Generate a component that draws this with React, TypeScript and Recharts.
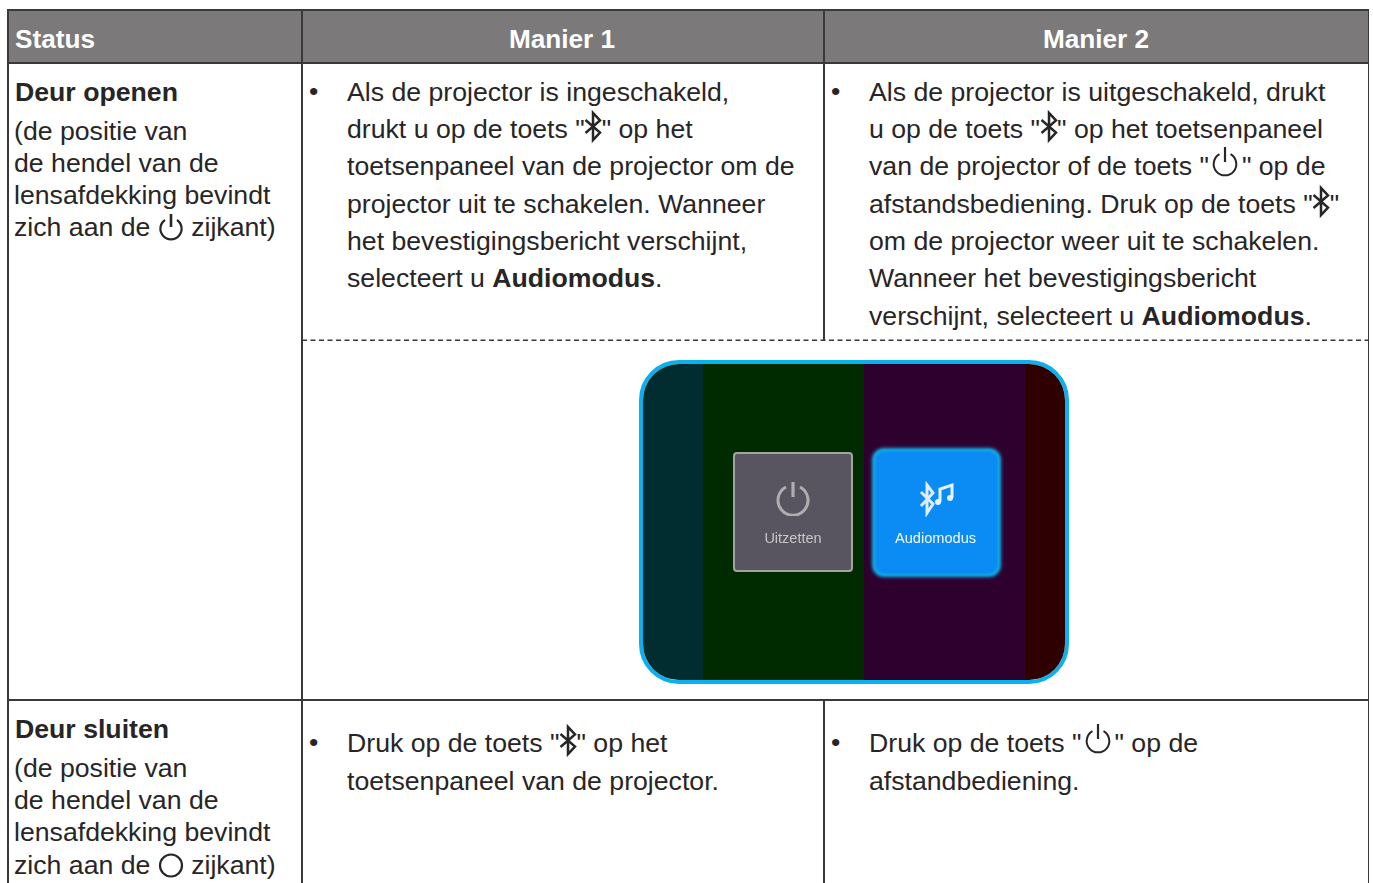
import { Bar, BarChart, XAxis, YAxis } from "recharts";

const FONT = '"Liberation Sans", Arial, sans-serif';
const INK = "#282526";

// colour bands behind the two tiles (width of each band)
const bandNames = ["teal", "green", "purple", "red"];
const bandWidths = [60, 161, 161, 40];
const bandColors = ["#012c30", "#002b00", "#2e002e", "#2e0000"];
const bandRow = [{ row: "paneel", teal: 60, green: 161, purple: 161, red: 40 }];

const headers = ["Status", "Manier 1", "Manier 2"];

// B = bluetooth icon, P = power icon, O = circle icon, **bold**
const way1Open = [
  "Als de projector is ingeschakeld,",
  'drukt u op de toets "{B}" op het',
  "toetsenpaneel van de projector om de",
  "projector uit te schakelen. Wanneer",
  "het bevestigingsbericht verschijnt,",
  "selecteert u **Audiomodus**.",
];
const way2Open = [
  "Als de projector is uitgeschakeld, drukt",
  'u op de toets "{B}" op het toetsenpaneel',
  'van de projector of de toets "{P}" op de',
  'afstandsbediening. Druk op de toets "{B}"',
  "om de projector weer uit te schakelen.",
  "Wanneer het bevestigingsbericht",
  "verschijnt, selecteert u **Audiomodus**.",
];
const openBaselines = [101, 138, 175, 213, 250, 287, 325];
const way1Close = ['Druk op de toets "{B}" op het', "toetsenpaneel van de projector."];
const way2Close = ['Druk op de toets "{P}" op de', "afstandbediening."];
const closeBaselines = [752, 790];
const statusOpen = ["(de positie van", "de hendel van de", "lensafdekking bevindt", "zich aan de {Q} zijkant)"];
const statusClose = ["(de positie van", "de hendel van de", "lensafdekking bevindt", "zich aan de {O} zijkant)"];
const statusOpenBaselines = [140, 172, 204, 236];
const statusCloseBaselines = [777, 809, 841, 874];

const FS = 26.67;
const HEADER_FS = 26.2;

function Icon({ kind }: { kind: string }) {
  const base = { position: "absolute", overflow: "visible" } as const;
  if (kind === "B") {
    return (
      <span style={{ display: "inline-block", position: "relative", width: 17, height: 0 }}>
        <svg width={18} height={31} viewBox="0 0 18 31" style={{ ...base, left: -0.5, top: -27 }}>
          <path d="M1.5 9 L16 21.5 L9 29 L9 2 L16 9.5 L1.5 22" fill="none" stroke={INK} strokeWidth={2.5} />
        </svg>
      </span>
    );
  }
  if (kind === "P") {
    return (
      <span style={{ display: "inline-block", position: "relative", width: 33, height: 0 }}>
        <svg width={26} height={28} viewBox="0 0 26 28" style={{ ...base, left: 3.5, top: -28 }}>
          <path d="M7.5 7.2 A11.3 11.3 0 1 0 18.5 7.2" fill="none" stroke={INK} strokeWidth={2} />
          <line x1={13} y1={0} x2={13} y2={15} stroke={INK} strokeWidth={2.2} />
        </svg>
      </span>
    );
  }
  if (kind === "Q") {
    return (
      <span style={{ display: "inline-block", position: "relative", width: 26, height: 0 }}>
        <svg width={26} height={25} viewBox="0 0 26 25" style={{ ...base, left: 0, top: -22 }}>
          <path d="M7 6 A10.6 10.6 0 1 0 19 6" fill="none" stroke={INK} strokeWidth={2.2} />
          <line x1={13} y1={0} x2={13} y2={13} stroke={INK} strokeWidth={2.6} />
        </svg>
      </span>
    );
  }
  return (
    <span style={{ display: "inline-block", position: "relative", width: 26, height: 0 }}>
      <svg width={26} height={25} viewBox="0 0 26 25" style={{ ...base, left: 0, top: -21 }}>
        <circle cx={13} cy={12.5} r={11} fill="none" stroke={INK} strokeWidth={2.2} />
      </svg>
    </span>
  );
}

function TextLine({ x, baseline, text, size = FS, weight = 400, color = INK }: any) {
  const parts = text.split(/(\{[BPQO]\}|\*\*[^*]+\*\*)/).filter(Boolean);
  const lh = 40;
  const top = baseline - 0.905 * size - (lh - 1.117 * size) / 2;
  return (
    <div
      style={{
        position: "absolute",
        left: x,
        top,
        lineHeight: `${lh}px`,
        fontSize: size,
        fontWeight: weight,
        color,
        whiteSpace: "pre",
      }}
    >
      {parts.map((p: string, i: number) => {
        if (p.startsWith("{")) return <Icon key={i} kind={p[1]} />;
        if (p.startsWith("**")) return <b key={i}>{p.slice(2, -2)}</b>;
        return <span key={i}>{p}</span>;
      })}
    </div>
  );
}

function Column({ x, lines, baselines }: { x: number; lines: string[]; baselines: number[] }) {
  return (
    <>
      {lines.map((t, i) => (
        <TextLine key={i} x={x} baseline={baselines[i]} text={t} />
      ))}
    </>
  );
}

function Rule({ x, y, w, h }: { x: number; y: number; w: number; h: number }) {
  return <div style={{ position: "absolute", left: x, top: y, width: w, height: h, background: "#3a3838" }} />;
}

function Panel() {
  return (
    <div
      style={{
        position: "absolute",
        left: 639,
        top: 360,
        width: 422,
        height: 316,
        border: "4px solid #0bb0ee",
        borderRadius: 40,
        overflow: "hidden",
      }}
    >
      <BarChart
        width={422}
        height={316}
        data={bandRow}
        layout="vertical"
        margin={{ top: 0, right: 0, bottom: 0, left: 0 }}
        barCategoryGap={0}
      >
        <XAxis type="number" hide domain={[0, bandWidths.reduce((a, b) => a + b, 0)]} />
        <YAxis type="category" dataKey="row" hide />
        {bandNames.map((n, i) => (
          <Bar key={n} dataKey={n} stackId="a" fill={bandColors[i]} isAnimationActive={false} />
        ))}
      </BarChart>
    </div>
  );
}

function Tiles() {
  return (
    <>
      <div
        style={{
          position: "absolute",
          left: 733,
          top: 452,
          width: 116,
          height: 116,
          background: "#585560",
          border: "2px solid #a3a3a3",
          borderRadius: 4,
          filter: "blur(0.4px)",
        }}
      />
      <svg
        width={36}
        height={36}
        viewBox="0 0 36 36"
        style={{ position: "absolute", left: 775, top: 480, filter: "blur(0.5px)" }}
      >
        <path d="M11 7 A15 15 0 1 0 25 7" fill="none" stroke="#aeaeb0" strokeWidth={3} />
        <line x1={18} y1={2} x2={18} y2={17} stroke="#aeaeb0" strokeWidth={3.2} />
      </svg>
      <div style={{ position: "absolute", left: 733, width: 120, top: 530, textAlign: "center", fontSize: 14.5, color: "#c6c6c8", filter: "blur(0.3px)" }}>
        Uitzetten
      </div>
      <div
        style={{
          position: "absolute",
          left: 873,
          top: 449,
          width: 123,
          height: 123,
          background: "#0b8cf5",
          border: "2px solid #12b4e4",
          borderRadius: 11,
          boxShadow: "0 0 3px 1px #10a5e0",
          filter: "blur(0.8px)",
        }}
      />
      <svg
        width={40}
        height={36}
        viewBox="0 0 40 36"
        style={{ position: "absolute", left: 917, top: 481, filter: "blur(0.5px)" }}
      >
        <path d="M4 11 L16 23 L10 32 L10 4 L16 12 L4 25" fill="none" stroke="#dfecfb" strokeWidth={3} />
        <path d="M23 21 L23 8 L35 4 L35 17" fill="none" stroke="#e6f1fc" strokeWidth={3} />
        <circle cx={21} cy={21} r={3} fill="#e6f1fc" />
        <circle cx={33} cy={17} r={3} fill="#e6f1fc" />
      </svg>
      <div style={{ position: "absolute", left: 873, width: 125, top: 530, textAlign: "center", fontSize: 14.6, color: "#f4f8fc", filter: "blur(0.2px)" }}>
        Audiomodus
      </div>
    </>
  );
}

export default function App() {
  const headerCell = { position: "absolute", top: 19, textAlign: "center", fontSize: HEADER_FS, fontWeight: 700, color: "#fff", lineHeight: "40px" } as const;
  return (
    <div
      style={{
        position: "fixed",
        left: 0,
        top: 0,
        width: 1373,
        height: 883,
        overflow: "hidden",
        background: "#fff",
        fontFamily: FONT,
      }}
    >
      <div style={{ position: "absolute", left: 8, top: 10, width: 1360, height: 53, background: "#7b7979" }} />
      <TextLine x={15} baseline={48} text={headers[0]} size={HEADER_FS} weight={700} color="#fff" />
      <div style={{ ...headerCell, left: 302, width: 520 }}>{headers[1]}</div>
      <div style={{ ...headerCell, left: 824, width: 544 }}>{headers[2]}</div>

      <Rule x={7} y={9} w={1362} h={2} />
      <Rule x={7} y={62} w={1362} h={2} />
      <Rule x={7} y={699} w={1362} h={2} />
      <Rule x={7} y={9} w={2} h={874} />
      <Rule x={301} y={9} w={2} h={874} />
      <Rule x={1367.5} y={9} w={1.5} h={874} />
      <Rule x={823} y={9} w={1.5} h={331} />
      <Rule x={823} y={700} w={1.5} h={183} />
      <svg width={1066} height={3} style={{ position: "absolute", left: 302, top: 339 }}>
        <line x1={0} y1={1.2} x2={1066} y2={1.2} stroke="#3a3838" strokeWidth={1.5} strokeDasharray="5 3.5" />
      </svg>

      <TextLine x={15} baseline={101} text="Deur openen" weight={700} />
      <Column x={14} lines={statusOpen} baselines={statusOpenBaselines} />
      <TextLine x={15} baseline={738} text="Deur sluiten" weight={700} />
      <Column x={14} lines={statusClose} baselines={statusCloseBaselines} />

      <TextLine x={309} baseline={100} text="•" />
      <Column x={347} lines={way1Open} baselines={openBaselines} />
      <TextLine x={831} baseline={100} text="•" />
      <Column x={869} lines={way2Open} baselines={openBaselines} />

      <Panel />
      <Tiles />

      <TextLine x={309} baseline={751} text="•" />
      <Column x={347} lines={way1Close} baselines={closeBaselines} />
      <TextLine x={831} baseline={751} text="•" />
      <Column x={869} lines={way2Close} baselines={closeBaselines} />
    </div>
  );
}
